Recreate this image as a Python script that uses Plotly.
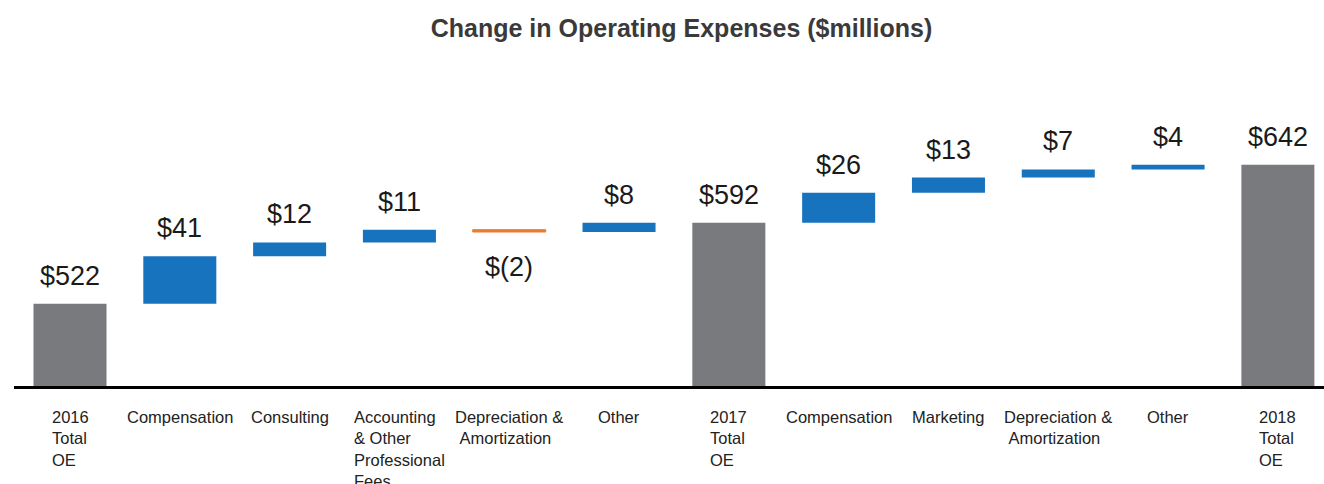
import plotly.graph_objects as go

# Operating expense bridge, $ millions
categories = [
    "2016\nTotal\nOE", "Compensation", "Consulting",
    "Accounting\n& Other\nProfessional\nFees", "Depreciation &\n\u00a0Amortization",
    "Other", "2017\nTotal\nOE", "Compensation", "Marketing",
    "Depreciation &\n\u00a0Amortization", "Other", "2018\nTotal\nOE",
]
values = [522, 41, 12, 11, -2, 8, 592, 26, 13, 7, 4, 642]
measures = ["absolute", "relative", "relative", "relative", "relative", "relative",
            "total", "relative", "relative", "relative", "relative", "total"]

FONT = "Liberation Sans, Arial, sans-serif"
GRAY = "#787A7D"
BLUE = "#1773BD"
ORANGE = "#E67E2E"

x = list(range(len(categories)))


def money(v):
    return f"$({abs(v)})" if v < 0 else f"${v}"


fig = go.Figure(go.Waterfall(
    x=x, y=values, measure=measures,
    width=0.665,
    increasing=dict(marker=dict(color=BLUE)),
    decreasing=dict(marker=dict(color=ORANGE, line=dict(color=ORANGE, width=1))),
    totals=dict(marker=dict(color=GRAY)),
    connector=dict(visible=False),
    hoverinfo="skip",
))

# running level before/after each step, used to place value labels
annotations = []
level = 0
for i, (v, m) in enumerate(zip(values, measures)):
    if m == "absolute":
        start, end = 0, v
        level = v
    elif m == "total":
        start, end = 0, level
    else:
        start, end = level, level + v
        level = end
    top, bottom = max(start, end), min(start, end)
    if v < 0:
        annotations.append(dict(x=i, y=bottom, xref="x", yref="y", text=money(v),
                                showarrow=False, yanchor="top", yshift=-18,
                                font=dict(family=FONT, size=27, color="#1a1a1a")))
    else:
        annotations.append(dict(x=i, y=top, xref="x", yref="y", text=money(v),
                                showarrow=False, yanchor="bottom", yshift=11,
                                font=dict(family=FONT, size=27, color="#1a1a1a")))

# category labels under the baseline, lines left-aligned within each block
for i, c in enumerate(categories):
    annotations.append(dict(x=i, y=0, xref="x", yref="paper", text=c.replace("\n", "<br>"),
                            showarrow=False, yanchor="top", xanchor="center", align="left",
                            yshift=-20,
                            font=dict(family=FONT, size=16.5, color="#222222")))

fig.update_layout(
    width=1324, height=484,
    margin=dict(l=14, r=0, t=100, b=98),
    paper_bgcolor="white", plot_bgcolor="white",
    showlegend=False,
    title=dict(text="<b>Change in Operating Expenses ($millions)</b>",
               x=681.5 / 1324, xanchor="center", xref="container",
               y=1 - 28 / 484, yanchor="middle", yref="container",
               font=dict(family=FONT, size=25, color="#3a3a3a")),
    xaxis=dict(range=[-0.51, 11.42], showgrid=False, zeroline=False,
               showticklabels=False, ticks="", showline=True,
               linecolor="black", linewidth=3, fixedrange=True),
    yaxis=dict(range=[451, 698], visible=False, showgrid=False, zeroline=False,
               fixedrange=True),
    annotations=annotations,
)

fig.write_html("out.html")
